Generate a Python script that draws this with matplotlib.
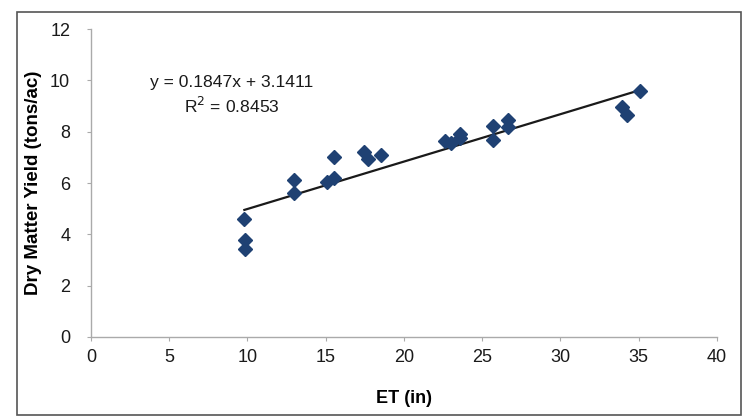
import numpy as np
import matplotlib.pyplot as plt
from matplotlib.patches import Rectangle

plt.rcParams['font.family'] = ['Liberation Sans', 'DejaVu Sans']

# 数据 (读自图片)
et = [9.8, 9.85, 9.85, 13.0, 13.0, 15.05, 15.55, 15.55, 17.45, 17.7, 18.55,
      22.6, 23.0, 23.6, 23.6, 25.7, 25.7, 26.65, 26.65, 33.95, 34.25, 35.1]
yield_dm = [4.6, 3.77, 3.42, 6.11, 5.6, 6.02, 6.2, 7.02, 7.2, 6.92, 7.1,
            7.64, 7.55, 7.9, 7.76, 8.22, 7.66, 8.45, 8.18, 8.97, 8.64, 9.6]

slope = 0.1847
intercept = 3.1411
r2 = 0.8453

x_ticks = [0, 5, 10, 15, 20, 25, 30, 35, 40]
y_ticks = [0, 2, 4, 6, 8, 10, 12]

fig = plt.figure(figsize=(7.44, 4.18), dpi=100)
ax = fig.add_axes([0.1223, 0.1938, 0.8414, 0.7368])

# 外框
fig.patches.append(Rectangle((17 / 744, 3 / 418), 724 / 744, 403 / 418,
                             transform=fig.transFigure, fill=False,
                             edgecolor='#555555', linewidth=1.2))

# 趋势线
xs = np.array([min(et), max(et)])
ax.plot(xs, slope * xs + intercept, color='#1a1a1a', linewidth=1.6, zorder=2)

# 散点
ax.plot(et, yield_dm, linestyle='none', marker='D', markersize=7,
        color='#1F4173', zorder=3)

ax.set_xlim(0, 40)
ax.set_ylim(0, 12)
ax.set_xticks(x_ticks)
ax.set_yticks(y_ticks)

for side in ['top', 'right']:
    ax.spines[side].set_visible(False)
for side in ['left', 'bottom']:
    ax.spines[side].set_color('#aaaaaa')
    ax.spines[side].set_linewidth(1.0)

ax.tick_params(axis='both', direction='out', length=3, color='#aaaaaa',
               labelsize=13, labelcolor='#1a1a1a')
ax.tick_params(axis='x', pad=6)
ax.tick_params(axis='y', pad=12)

ax.set_xlabel('ET (in)', fontsize=13, fontweight='bold', labelpad=17)
ax.set_ylabel('Dry Matter Yield (tons/ac)', fontsize=13.5, fontweight='bold',
              labelpad=6)

ax.text(9.0, 9.9, f'y = {slope}x + {intercept}', fontsize=12.6,
        ha='center', va='center', color='#1a1a1a')
ax.text(9.0, 9.0, f'R$^2$ = {r2}', fontsize=12.6,
        ha='center', va='center', color='#1a1a1a')

plt.savefig('out.png', dpi=100)
